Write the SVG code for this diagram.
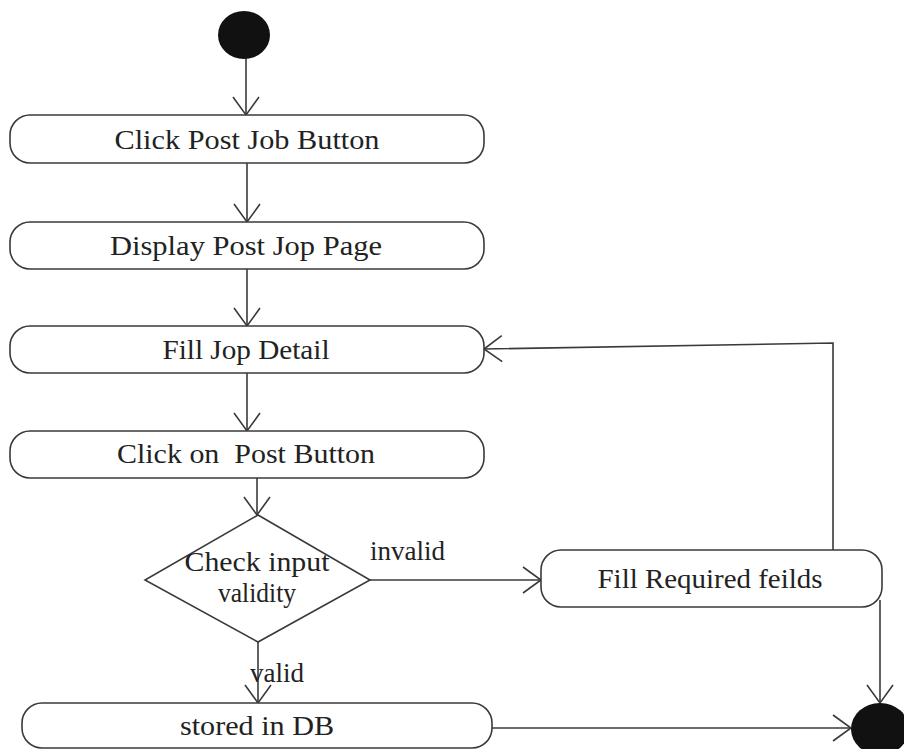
<svg xmlns="http://www.w3.org/2000/svg" width="904" height="749" viewBox="0 0 904 749">
  <style>
    .act { fill: #ffffff; stroke: #3a3a3a; stroke-width: 1.6; }
    .edge { fill: none; stroke: #3a3a3a; stroke-width: 1.6; }
    .dot { fill: #111111; }
    .lbl { font-family: "Liberation Serif", "Times New Roman", serif; font-size: 27px; fill: #222222; }
    .mid { text-anchor: middle; }
  </style>
  <defs>
    <marker id="open" markerUnits="userSpaceOnUse" markerWidth="24" markerHeight="30" refX="0" refY="0" viewBox="-20 -15 22 30" orient="auto">
      <path d="M -18 -13 L 0 0 L -18 13" fill="none" stroke="#3a3a3a" stroke-width="1.6"/>
    </marker>
  </defs>

  <rect width="904" height="749" fill="#ffffff"/>

  <g id="connectors">
    <line class="edge" x1="246" y1="58" x2="246" y2="115" marker-end="url(#open)"/>
    <line class="edge" x1="247" y1="163" x2="247" y2="222" marker-end="url(#open)"/>
    <line class="edge" x1="247" y1="269" x2="247" y2="326" marker-end="url(#open)"/>
    <line class="edge" x1="247" y1="373" x2="247" y2="431" marker-end="url(#open)"/>
    <line class="edge" x1="257" y1="478" x2="257" y2="515" marker-end="url(#open)"/>
    <line class="edge" x1="370" y1="580" x2="541" y2="580" marker-end="url(#open)"/>
    <line class="edge" x1="258" y1="642" x2="258" y2="703" marker-end="url(#open)"/>
    <polyline class="edge" points="833,550 833,343 484,349" marker-end="url(#open)"/>
    <line class="edge" x1="880" y1="600" x2="880" y2="703" marker-end="url(#open)"/>
    <line class="edge" x1="492" y1="728" x2="851" y2="728" marker-end="url(#open)"/>
    <text class="lbl" x="370" y="560" textLength="75" lengthAdjust="spacingAndGlyphs">invalid</text>
    <text class="lbl" x="250" y="682" textLength="54" lengthAdjust="spacingAndGlyphs">valid</text>
  </g>

  <g id="start">
    <ellipse class="dot" cx="244" cy="35" rx="26" ry="24"/>
  </g>

  <g id="click-post-job">
    <rect class="act" x="10" y="115" width="474" height="48" rx="20" ry="20"/>
    <text class="lbl mid" x="247" y="149" textLength="265" lengthAdjust="spacingAndGlyphs">Click Post Job Button</text>
  </g>

  <g id="display-page">
    <rect class="act" x="10" y="222" width="474" height="47" rx="20" ry="20"/>
    <text class="lbl mid" x="246" y="255" textLength="272" lengthAdjust="spacingAndGlyphs">Display Post Jop Page</text>
  </g>

  <g id="fill-detail">
    <rect class="act" x="10" y="326" width="474" height="47" rx="20" ry="20"/>
    <text class="lbl mid" x="246" y="359" textLength="167" lengthAdjust="spacingAndGlyphs">Fill Jop Detail</text>
  </g>

  <g id="click-post">
    <rect class="act" x="10" y="431" width="474" height="47" rx="20" ry="20"/>
    <text class="lbl mid" x="246" y="463" textLength="258" lengthAdjust="spacingAndGlyphs" xml:space="preserve">Click on  Post Button</text>
  </g>

  <g id="check-validity">
    <polygon class="act" points="258,515 370,580 258,642 145,580"/>
    <text class="lbl mid" x="257" y="571" textLength="145" lengthAdjust="spacingAndGlyphs">Check input</text>
    <text class="lbl mid" x="257" y="602" textLength="78" lengthAdjust="spacingAndGlyphs">validity</text>
  </g>

  <g id="fill-required">
    <rect class="act" x="541" y="550" width="341" height="57" rx="20" ry="20"/>
    <text class="lbl mid" x="710" y="588" textLength="225" lengthAdjust="spacingAndGlyphs">Fill Required feilds</text>
  </g>

  <g id="stored-db">
    <rect class="act" x="22" y="703" width="470" height="45" rx="20" ry="20"/>
    <text class="lbl mid" x="257" y="735" textLength="154" lengthAdjust="spacingAndGlyphs">stored in DB</text>
  </g>

  <g id="end">
    <ellipse class="dot" cx="880" cy="729" rx="29" ry="26"/>
  </g>
</svg>
